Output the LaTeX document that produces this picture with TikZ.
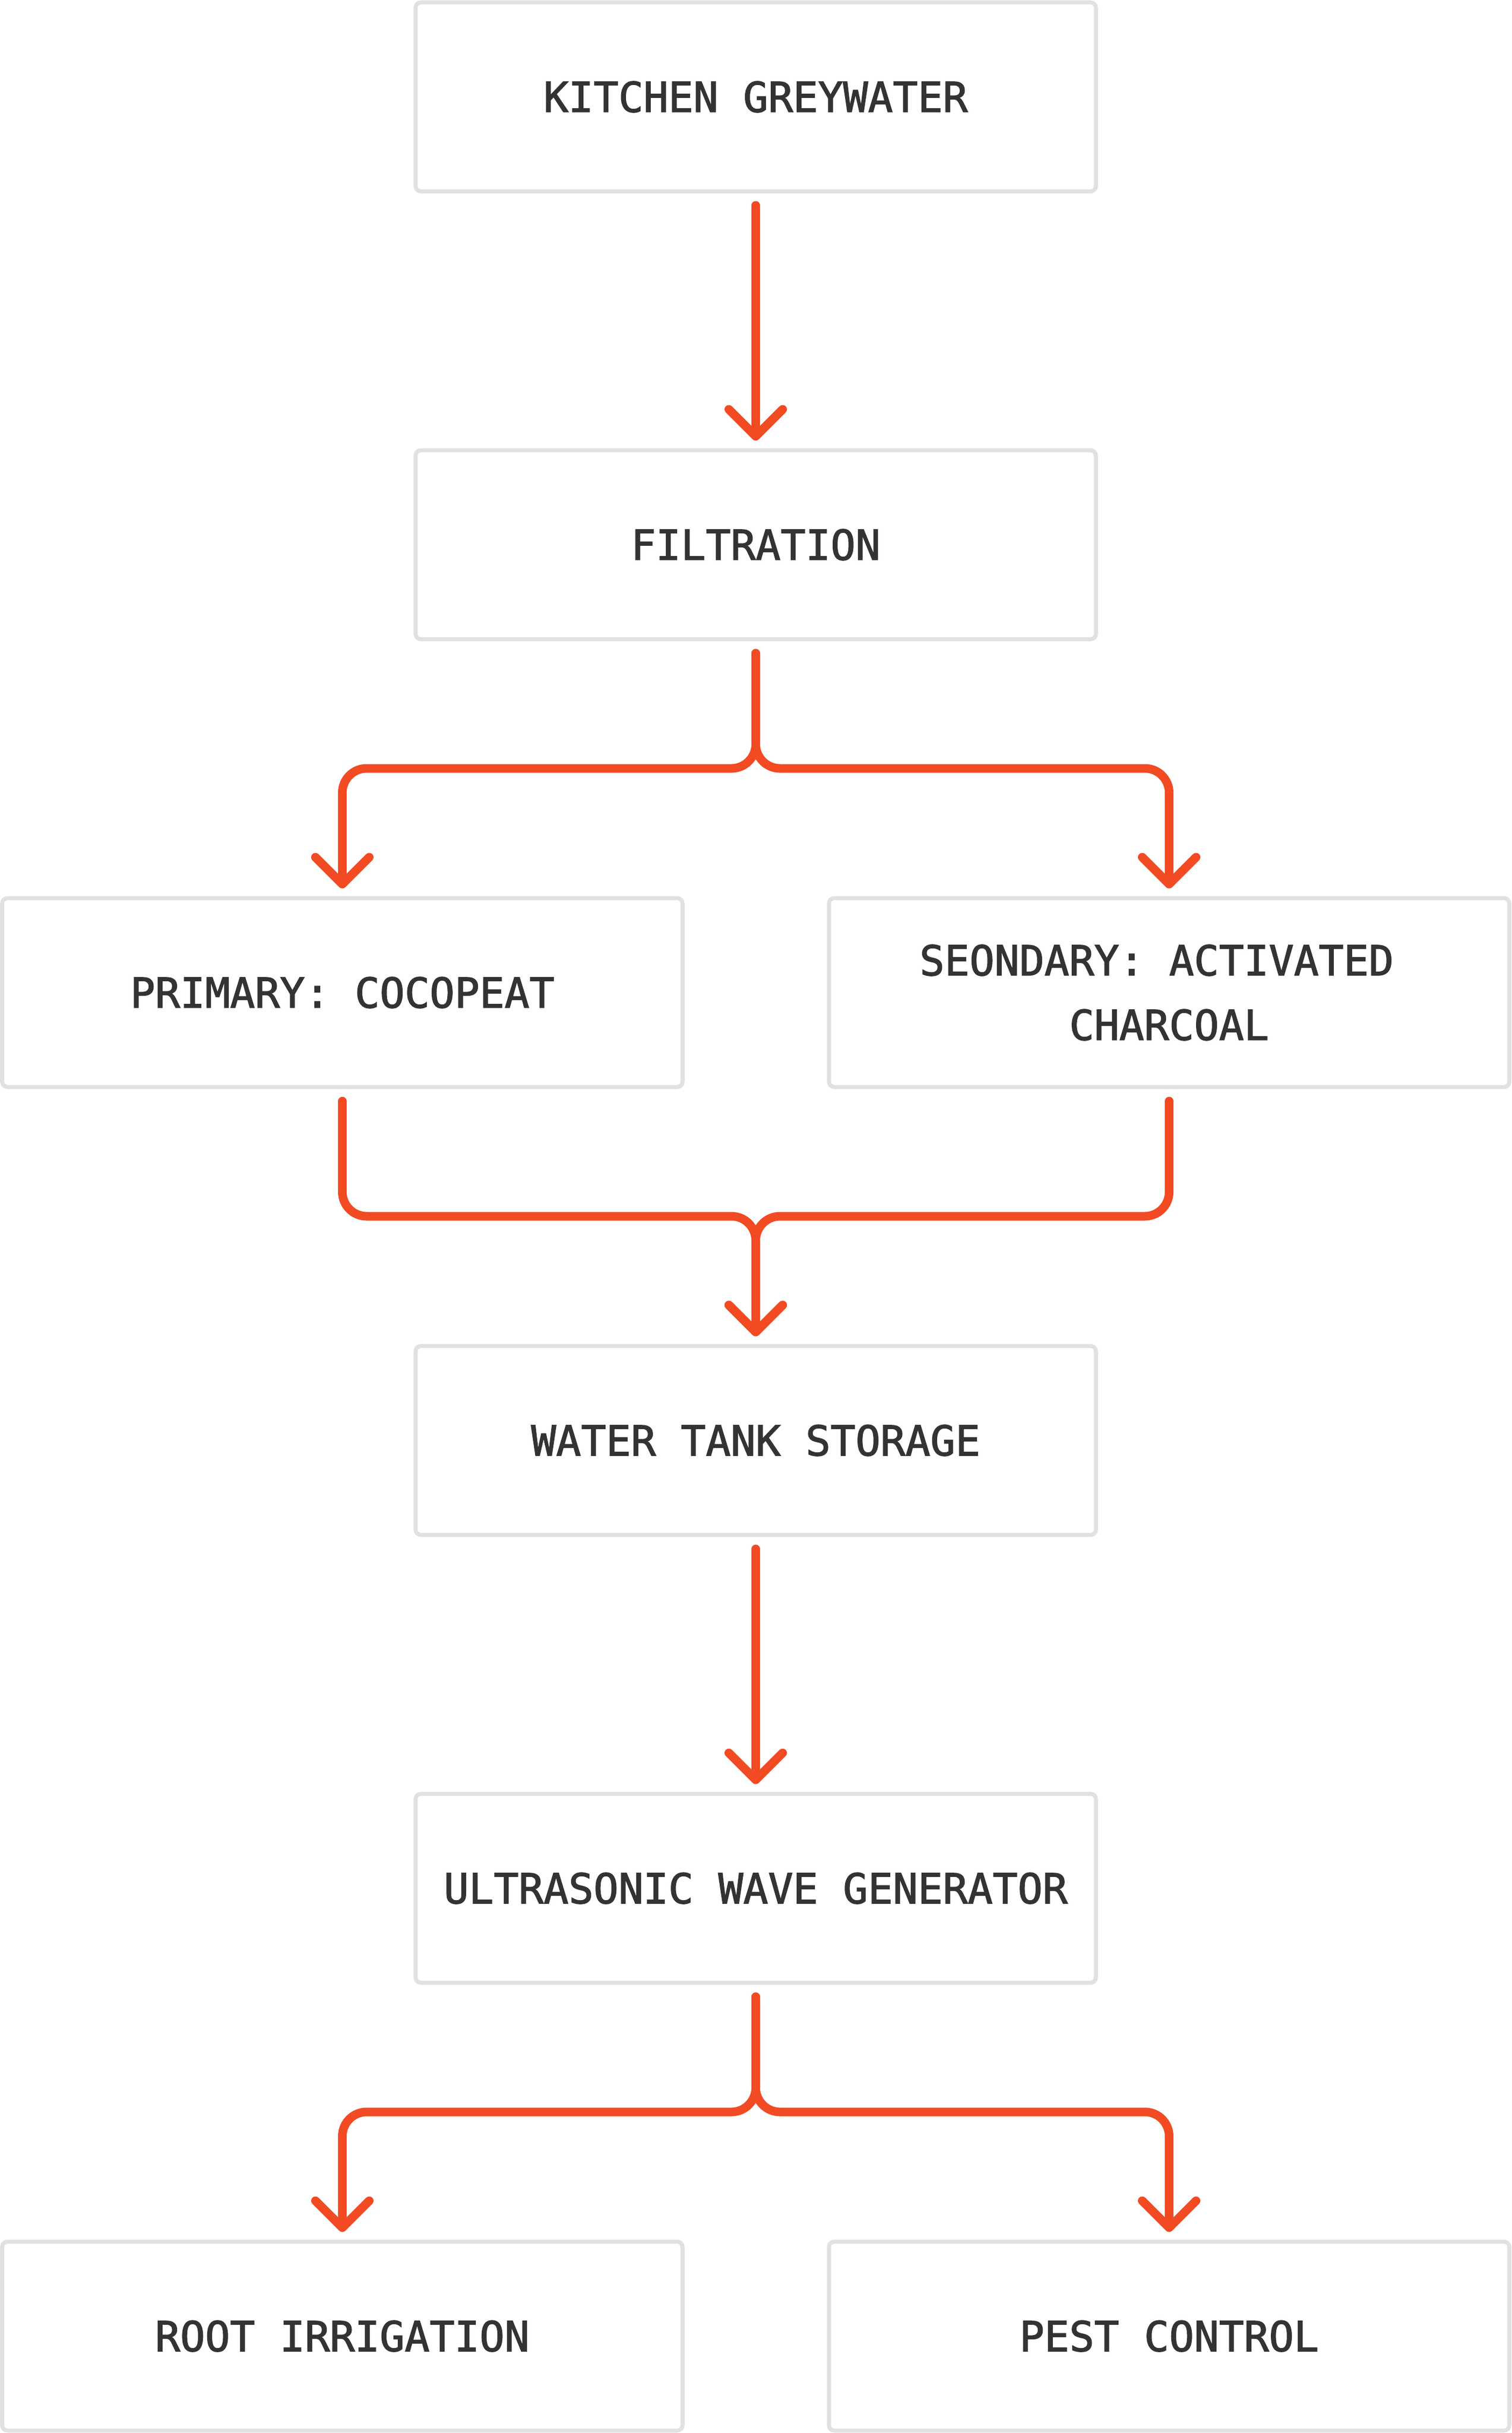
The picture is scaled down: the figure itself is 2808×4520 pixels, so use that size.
\documentclass[tikz,border=0pt]{standalone}
\usepackage{fontspec}
\newfontfamily\labelfont{DejaVu Sans Mono}[FakeBold=1.8]
\usetikzlibrary{arrows.meta,calc}
\definecolor{flowc}{HTML}{F24A23}
\definecolor{boxc}{HTML}{E1E1E1}
\definecolor{textc}{HTML}{333333}
\begin{document}
\begin{tikzpicture}[x=1pt,y=-1pt,
  stepbox/.style={draw=boxc, line width=7.5pt, rounded corners=10pt,
    minimum width=1264pt, minimum height=351pt, inner sep=0pt, outer sep=0pt,
    align=center, text=textc, font=\labelfont\fontsize{77}{120}\selectfont},
  flow/.style={draw=flowc, line width=16pt, line cap=round, line join=round,
    rounded corners=45pt, -{Straight Barb[length=50pt,width=100pt,round]}}]
\useasboundingbox (0,0) rectangle (2808,4520);
\fill[white] (0,0) rectangle (2808,4520);

\node[stepbox] (k) at (1404,180)  {KITCHEN GREYWATER};
\node[stepbox] (f) at (1404,1012) {FILTRATION};
\node[stepbox] (p) at (636,1844)  {PRIMARY: COCOPEAT};
\node[stepbox] (s) at (2172,1844) {SEONDARY: ACTIVATED\hphantom{A}\\CHARCOAL};
\node[stepbox] (t) at (1404,2676) {WATER TANK STORAGE};
\node[stepbox] (u) at (1404,3508) {ULTRASONIC WAVE GENERATOR};
\node[stepbox] (r) at (636,4340)  {ROOT IRRIGATION};
\node[stepbox] (c) at (2172,4340) {PEST CONTROL};

\draw[flow] ($(k.south)+(0,26)$) -- ($(f.north)+(0,-18)$);
\draw[flow] ($(f.south)+(0,26)$) |- ($(p.north)+(0,-241)$) -- ($(p.north)+(0,-18)$);
\draw[flow] ($(f.south)+(0,26)$) |- ($(s.north)+(0,-241)$) -- ($(s.north)+(0,-18)$);
\draw[flow] ($(p.south)+(0,26)$) |- ($(t.north)+(0,-241)$) -- ($(t.north)+(0,-18)$);
\draw[flow] ($(s.south)+(0,26)$) |- ($(t.north)+(0,-241)$) -- ($(t.north)+(0,-18)$);
\draw[flow] ($(t.south)+(0,26)$) -- ($(u.north)+(0,-18)$);
\draw[flow] ($(u.south)+(0,26)$) |- ($(r.north)+(0,-241)$) -- ($(r.north)+(0,-18)$);
\draw[flow] ($(u.south)+(0,26)$) |- ($(c.north)+(0,-241)$) -- ($(c.north)+(0,-18)$);
\end{tikzpicture}
\end{document}
